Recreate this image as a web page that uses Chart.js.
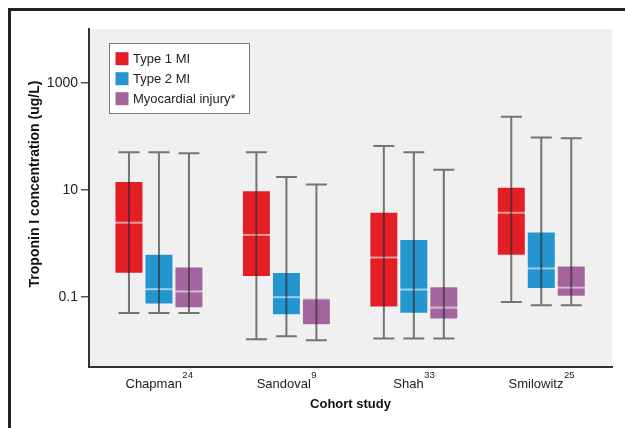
<!DOCTYPE html>
<html>
<head>
<meta charset="utf-8">
<script src="https://cdn.jsdelivr.net/npm/chart.js@4/dist/chart.umd.min.js"></script>
<style>
  html, body { margin: 0; padding: 0; background: #fff; }
  #wrap { width: 625px; height: 428px; position: relative; }
</style>
</head>
<body>
<div id="wrap"><canvas id="troponinChart"></canvas></div>
<script>
const studies = ['Chapman', 'Sandoval', 'Shah', 'Smilowitz'];
const studyRefs = ['24', '9', '33', '25'];
const seriesNames = ['Type 1 MI', 'Type 2 MI', 'Myocardial injury*'];
const yTicks = [0.1, 10, 1000];

// box plot stats (ug/L)
const type1Min = [0.051, 0.0165, 0.017, 0.081];
const type1Q1 = [0.275, 0.239, 0.064, 0.59];
const type1Median = [2.45, 1.45, 0.55, 3.75];
const type1Q3 = [14.7, 9.9, 3.9, 11.4];
const type1Max = [50.6, 50.6, 66, 232];

const type2Min = [0.051, 0.0187, 0.017, 0.071];
const type2Q1 = [0.073, 0.046, 0.049, 0.143];
const type2Median = [0.141, 0.1, 0.139, 0.344];
const type2Q3 = [0.644, 0.295, 1.22, 1.67];
const type2Max = [50.6, 17.4, 50.6, 94.6];

const injuryMin = [0.051, 0.0158, 0.017, 0.071];
const injuryQ1 = [0.062, 0.030, 0.0386, 0.1016];
const injuryMedian = [0.128, 0.094, 0.064, 0.151];
const injuryQ3 = [0.375, 0.1, 0.16, 0.392];
const injuryMax = [48.4, 12.6, 23.9, 91.8];

const colors = ['#e31e26', '#2595cf', '#a4659f'];
const FONT = '"Liberation Sans", Arial, Helvetica, sans-serif';

const stats = [
  { min: type1Min, q1: type1Q1, med: type1Median, q3: type1Q3, max: type1Max },
  { min: type2Min, q1: type2Q1, med: type2Median, q3: type2Q3, max: type2Max },
  { min: injuryMin, q1: injuryQ1, med: injuryMedian, q3: injuryQ3, max: injuryMax }
];

const datasets = stats.map((s, k) => ({
  label: seriesNames[k],
  data: studies.map((_, i) => ({ x: i, y: [s.q1[i], s.q3[i]] })),
  backgroundColor: colors[k],
  borderColor: 'rgba(255,255,255,0.25)',
  borderWidth: 1,
  borderSkipped: false,
  categoryPercentage: 0.706,
  barPercentage: 0.967
}));

const boxPlotPlugin = {
  id: 'boxPlot',
  beforeDraw(chart) {
    const { ctx, chartArea: a } = chart;
    ctx.save();
    ctx.fillStyle = '#f0f0f0';
    ctx.fillRect(a.left, a.top, a.right - a.left, a.bottom - a.top);
    ctx.fillStyle = '#222';
    ctx.fillRect(8, 8, chart.width - 8, 3);
    ctx.fillRect(8, 8, 3, chart.height - 8);
    ctx.restore();
  },
  afterDatasetsDraw(chart) {
    const { ctx } = chart;
    const y = chart.scales.y;
    ctx.save();
    stats.forEach((s, k) => {
      const meta = chart.getDatasetMeta(k);
      meta.data.forEach((bar, i) => {
        const half = bar.width / 2;
        // median
        ctx.strokeStyle = 'rgba(255,255,255,0.55)';
        ctx.lineWidth = 2;
        const ym = y.getPixelForValue(s.med[i]);
        ctx.beginPath();
        ctx.moveTo(bar.x - half, ym);
        ctx.lineTo(bar.x + half, ym);
        ctx.stroke();
        // whisker
        const yTop = y.getPixelForValue(s.max[i]);
        const yBot = y.getPixelForValue(s.min[i]);
        ctx.strokeStyle = 'rgba(40,40,40,0.62)';
        ctx.lineWidth = 2;
        ctx.beginPath();
        ctx.moveTo(bar.x, yTop);
        ctx.lineTo(bar.x, yBot);
        ctx.moveTo(bar.x - 10.5, yTop);
        ctx.lineTo(bar.x + 10.5, yTop);
        ctx.moveTo(bar.x - 10.5, yBot);
        ctx.lineTo(bar.x + 10.5, yBot);
        ctx.stroke();
      });
    });
    ctx.restore();
  },
  afterDraw(chart) {
    const { ctx, chartArea: a } = chart;
    const x = chart.scales.x;
    ctx.save();

    // legend
    ctx.fillStyle = '#fff';
    ctx.fillRect(109.5, 43.5, 140, 70);
    ctx.strokeStyle = '#7a7a7a';
    ctx.lineWidth = 1;
    ctx.strokeRect(109.5, 43.5, 140, 70);
    ctx.font = '13px ' + FONT;
    ctx.textBaseline = 'middle';
    ctx.textAlign = 'left';
    seriesNames.forEach((name, k) => {
      const cy = 58.7 + k * 20;
      ctx.fillStyle = colors[k];
      ctx.fillRect(115.5, cy - 6.5, 13, 13);
      ctx.fillStyle = '#222';
      ctx.fillText(name, 133, cy + 0.5);
    });

    // category labels with reference superscripts
    ctx.textBaseline = 'alphabetic';
    studies.forEach((name, i) => {
      const cx = x.getPixelForValue(i);
      ctx.font = '13px ' + FONT;
      const w1 = ctx.measureText(name).width;
      ctx.font = '9.5px ' + FONT;
      const w2 = ctx.measureText(studyRefs[i]).width;
      const start = cx - (w1 + w2) / 2;
      ctx.fillStyle = '#222';
      ctx.font = '13px ' + FONT;
      ctx.fillText(name, start, 387.5);
      ctx.font = '9.5px ' + FONT;
      ctx.fillText(studyRefs[i], start + w1 + 0.5, 377.5);
    });

    // axis titles
    ctx.font = 'bold 13px ' + FONT;
    ctx.textAlign = 'center';
    ctx.textBaseline = 'middle';
    ctx.fillStyle = '#111';
    ctx.fillText('Cohort study', (a.left + a.right) / 2, 404);
    ctx.translate(35, 184);
    ctx.rotate(-Math.PI / 2);
    ctx.font = 'bold 14px ' + FONT;
    ctx.fillText('Troponin I concentration (ug/L)', 0, 0);
    ctx.restore();
  }
};

new Chart(document.getElementById('troponinChart'), {
  type: 'bar',
  data: { datasets },
  plugins: [boxPlotPlugin],
  options: {
    responsive: true,
    maintainAspectRatio: false,
    animation: false,
    layout: { padding: { top: 29, right: 13, left: 0, bottom: 0 } },
    plugins: {
      legend: { display: false },
      tooltip: { enabled: false }
    },
    scales: {
      x: {
        type: 'linear',
        bounds: 'data',
        offset: false,
        min: -0.549,
        max: 3.555,
        grid: { display: false, offset: false },
        border: { display: true, color: '#333', width: 2 },
        ticks: { display: false },
        afterBuildTicks: s => { s.ticks = studies.map((_, i) => ({ value: i })); },
        afterFit: s => { s.height = 61; }
      },
      y: {
        type: 'logarithmic',
        bounds: 'data',
        min: 0.005,
        max: 10000,
        grid: { drawOnChartArea: false, drawTicks: true, tickLength: 8, color: '#555', lineWidth: 1.5 },
        border: { display: true, color: '#333', width: 2 },
        ticks: {
          padding: 3,
          color: '#222',
          font: { family: FONT, size: 14 },
          callback: v => String(v)
        },
        afterBuildTicks: s => { s.ticks = yTicks.map(v => ({ value: v })); },
        afterFit: s => { s.width = 89; }
      }
    }
  }
});
</script>
</body>
</html>
